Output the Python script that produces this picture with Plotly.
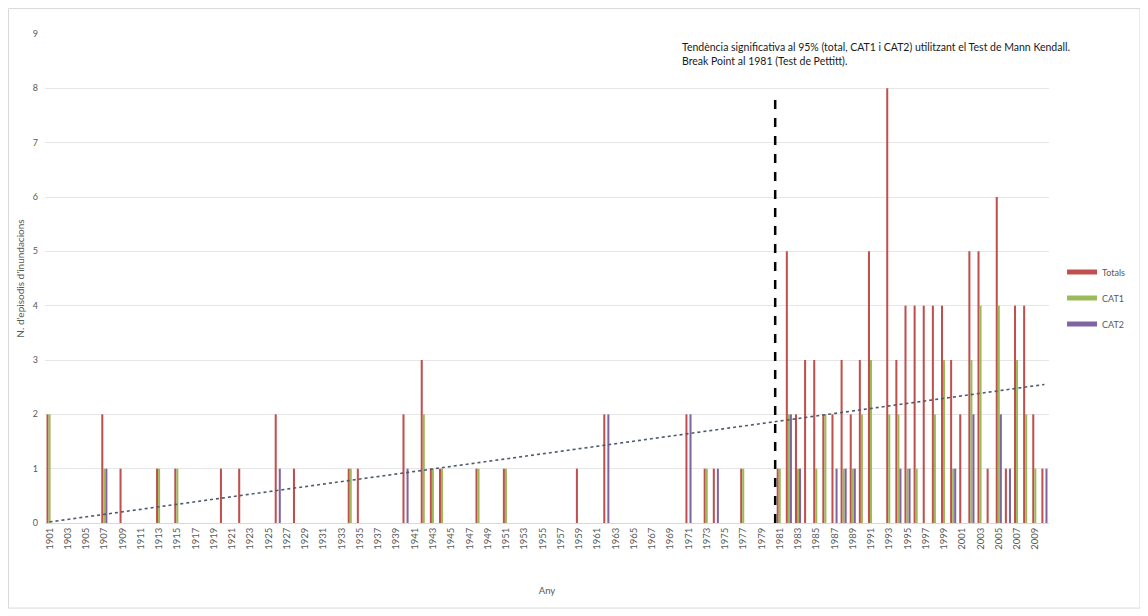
import plotly.graph_objects as go

years = list(range(1901, 2011))

totals = [
    2, 0, 0, 0, 0, 0, 2, 0, 1, 0,   # 1901-1910
    0, 0, 1, 0, 1, 0, 0, 0, 0, 1,   # 1911-1920
    0, 1, 0, 0, 0, 2, 0, 1, 0, 0,   # 1921-1930
    0, 0, 0, 1, 1, 0, 0, 0, 0, 2,   # 1931-1940
    0, 3, 1, 1, 0, 0, 0, 1, 0, 0,   # 1941-1950
    1, 0, 0, 0, 0, 0, 0, 0, 1, 0,   # 1951-1960
    0, 2, 0, 0, 0, 0, 0, 0, 0, 0,   # 1961-1970
    2, 0, 1, 1, 0, 0, 1, 0, 0, 0,   # 1971-1980
    1, 5, 2, 3, 3, 2, 2, 3, 2, 3,   # 1981-1990
    5, 0, 8, 3, 4, 4, 4, 4, 4, 3,   # 1991-2000
    2, 5, 5, 1, 6, 1, 4, 4, 2, 1,   # 2001-2010
]
cat1 = [
    2, 0, 0, 0, 0, 0, 1, 0, 0, 0,
    0, 0, 1, 0, 1, 0, 0, 0, 0, 0,
    0, 0, 0, 0, 0, 0, 0, 0, 0, 0,
    0, 0, 0, 1, 0, 0, 0, 0, 0, 0,
    0, 2, 1, 1, 0, 0, 0, 1, 0, 0,
    1, 0, 0, 0, 0, 0, 0, 0, 0, 0,
    0, 0, 0, 0, 0, 0, 0, 0, 0, 0,
    0, 0, 1, 0, 0, 0, 1, 0, 0, 0,
    1, 2, 1, 0, 1, 2, 0, 1, 1, 2,
    3, 0, 2, 2, 1, 1, 0, 2, 3, 1,
    0, 3, 4, 0, 4, 0, 3, 2, 1, 0,
]
cat2 = [
    0, 0, 0, 0, 0, 0, 1, 0, 0, 0,
    0, 0, 0, 0, 0, 0, 0, 0, 0, 0,
    0, 0, 0, 0, 0, 1, 0, 0, 0, 0,
    0, 0, 0, 0, 0, 0, 0, 0, 0, 1,
    0, 0, 0, 0, 0, 0, 0, 0, 0, 0,
    0, 0, 0, 0, 0, 0, 0, 0, 0, 0,
    0, 2, 0, 0, 0, 0, 0, 0, 0, 0,
    2, 0, 0, 1, 0, 0, 0, 0, 0, 0,
    0, 2, 1, 0, 0, 0, 1, 1, 1, 0,
    0, 0, 0, 1, 1, 0, 0, 0, 0, 1,
    0, 2, 0, 0, 2, 1, 0, 0, 0, 1,
]
tick_years = years[::2]
tick_labels = [str(y) for y in tick_years]

trend_years = [1901, 2010]
trend_values = [0.02, 2.55]

break_year = 1981
break_top = 7.95

series_names = ["Totals", "CAT1", "CAT2"]
series_colors = ["#C0504D", "#9BBB59", "#8064A2"]

annotation_text = ("Tendència significativa al 95% (total, CAT1 i CAT2) utilitzant el Test de Mann Kendall.<br>"
                   "Break Point al 1981 (Test de Pettitt).")

FONT = "Lato, 'Open Sans', sans-serif"

fig = go.Figure()
for name, vals, col in zip(series_names, [totals, cat1, cat2], series_colors):
    fig.add_trace(go.Bar(x=years, y=vals, name=name, marker=dict(color=col, line=dict(width=0)),
                         showlegend=False))
    fig.add_trace(go.Scatter(x=[None], y=[None], mode="lines", name=name, legendgroup=name,
                             line=dict(color=col, width=5), showlegend=True))

fig.add_trace(go.Scatter(x=trend_years, y=trend_values, mode="lines", showlegend=False,
                         line=dict(color="#4F5A6B", width=1.6, dash="dot"), hoverinfo="skip"))

fig.add_shape(type="line", xref="x", yref="y", x0=break_year - 0.5, x1=break_year - 0.5,
              y0=0, y1=break_top, line=dict(color="black", width=2.5, dash="dash"))

fig.add_shape(type="rect", xref="paper", yref="paper", x0=-0.0364, x1=1.0906, y0=-0.174, y1=1.052,
              line=dict(color="#D9D9D9", width=1), layer="below")

fig.add_annotation(text=annotation_text, xref="paper", yref="paper", x=0.632, y=0.99,
                   xanchor="left", yanchor="top", align="left", showarrow=False,
                   font=dict(family=FONT, size=10.5, color="#1a1a1a"))

fig.update_layout(
    width=1140, height=608,
    margin=dict(l=37, r=99, t=26, b=93, autoexpand=False),
    paper_bgcolor="white", plot_bgcolor="white",
    barmode="group", bargap=0.33, bargroupgap=0,
    font=dict(family=FONT, size=9, color="#595959"),
    legend=dict(x=1.013, y=0.46, xanchor="left", yanchor="middle",
                font=dict(size=9, color="#595959"), tracegroupgap=7,
                bgcolor="rgba(0,0,0,0)"),
    xaxis=dict(range=[1900.5, 2010.5], tickmode="array", tickvals=tick_years, ticktext=tick_labels,
               tickangle=-90, tickfont=dict(size=9.5, color="#595959"), showgrid=False,
               showline=True, linecolor="#D9D9D9", zeroline=False, ticks="", automargin=False,
               title=dict(text="Any", font=dict(size=9.5, color="#595959"), standoff=38)),
    yaxis=dict(range=[0, 9], dtick=1, tickfont=dict(size=9, color="#595959"),
               ticklabelstandoff=6,
               showgrid=True, gridcolor="#E6E6E6", zeroline=False, ticks="", automargin=False,
               title=dict(text="N. d'episodis d'inundacions", font=dict(size=10, color="#595959"),
                          standoff=6)),
)

fig.write_html("out.html")
